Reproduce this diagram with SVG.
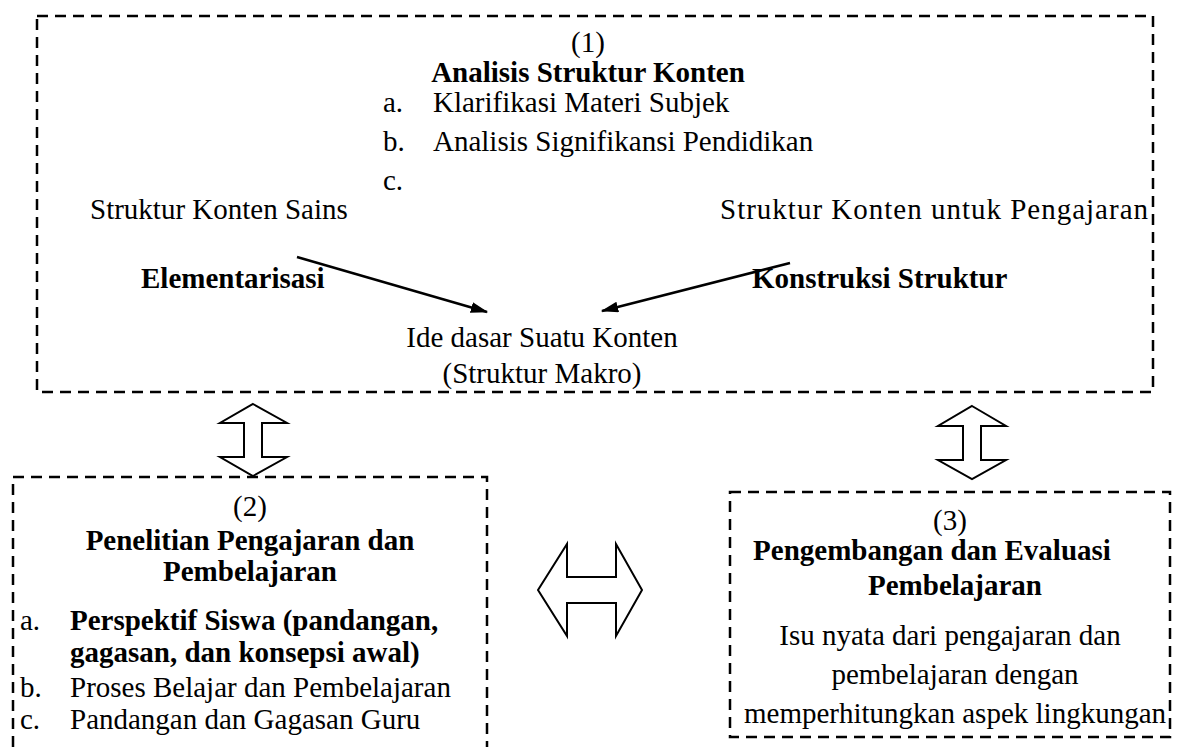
<svg xmlns="http://www.w3.org/2000/svg" width="1177" height="747" viewBox="0 0 1177 747">
<style>
.t{font-family:"Liberation Serif","Times New Roman",Times,serif;font-size:29px;fill:#000}
.b{font-weight:bold}
.c{text-anchor:middle}
.e{text-anchor:end}
.box{fill:none;stroke:#000;stroke-width:2.5;stroke-dasharray:11 7}
.blk{fill:#fff;stroke:#000;stroke-width:2;stroke-linejoin:miter}
.ln{stroke:#000;stroke-width:2.5;fill:none}
</style>
<defs>
<marker id="ah" markerWidth="7" markerHeight="5" refX="6.5" refY="2.2" orient="auto" markerUnits="strokeWidth">
<path d="M0,0 L7,2.2 L0,4.4 z" fill="#000"/>
</marker>
</defs>
<rect width="1177" height="747" fill="#fff"/>

<g id="node1">
<rect class="box" x="37" y="16" width="1116" height="376"/>
<text class="t c" x="588" y="52">(1)</text>
<text class="t b c" x="588" y="82">Analisis Struktur Konten</text>
<text class="t" x="383" y="112">a.</text>
<text class="t" x="433" y="112">Klarifikasi Materi Subjek</text>
<text class="t" x="383" y="151">b.</text>
<text class="t" x="433" y="151">Analisis Signifikansi Pendidikan</text>
<text class="t" x="383" y="190">c.</text>
<text class="t" x="90" y="219">Struktur Konten Sains</text>
<text class="t" x="720" y="219" textLength="428" lengthAdjust="spacing">Struktur Konten untuk Pengajaran</text>
<text class="t b" x="141" y="288">Elementarisasi</text>
<text class="t b" x="752" y="288">Konstruksi Struktur</text>
<text class="t c" x="542" y="347">Ide dasar Suatu Konten</text>
<text class="t c" x="542" y="383">(Struktur Makro)</text>
</g>

<g id="node2">
<rect class="box" x="13" y="477" width="474" height="300"/>
<text class="t c" x="250" y="516">(2)</text>
<text class="t b c" x="250" y="550">Penelitian Pengajaran dan</text>
<text class="t b c" x="250" y="581">Pembelajaran</text>
<text class="t" x="20" y="630">a.</text>
<text class="t b" x="70" y="630">Perspektif Siswa (pandangan,</text>
<text class="t b" x="70" y="662">gagasan, dan konsepsi awal)</text>
<text class="t" x="20" y="697">b.</text>
<text class="t" x="70" y="697">Proses Belajar dan Pembelajaran</text>
<text class="t" x="20" y="729">c.</text>
<text class="t" x="70" y="729">Pandangan dan Gagasan Guru</text>
</g>

<g id="node3">
<rect class="box" x="730" y="492" width="440" height="245"/>
<text class="t c" x="950" y="530">(3)</text>
<text class="t b c" x="932" y="560">Pengembangan dan Evaluasi</text>
<text class="t b c" x="955" y="595">Pembelajaran</text>
<text class="t c" x="950" y="645">Isu nyata dari pengajaran dan</text>
<text class="t c" x="955" y="684">pembelajaran dengan</text>
<text class="t c" x="955" y="723">memperhitungkan aspek lingkungan</text>
</g>

<g id="connectors">
<line class="ln" x1="297" y1="257" x2="487" y2="312" marker-end="url(#ah)"/>
<line class="ln" x1="790" y1="263" x2="602" y2="311" marker-end="url(#ah)"/>
<polygon class="blk" points="253,404 287,423 262,423 262,457 287,457 253,476 220,457 244,457 244,423 220,423"/>
<polygon class="blk" points="972,406 1006,426 981,426 981,460 1006,460 972,479 938,460 963,460 963,426 938,426"/>
<polygon class="blk" points="538,590 567,544 567,577 616,577 616,544 642,590 616,636 616,603 567,603 567,636"/>
</g>
</svg>
